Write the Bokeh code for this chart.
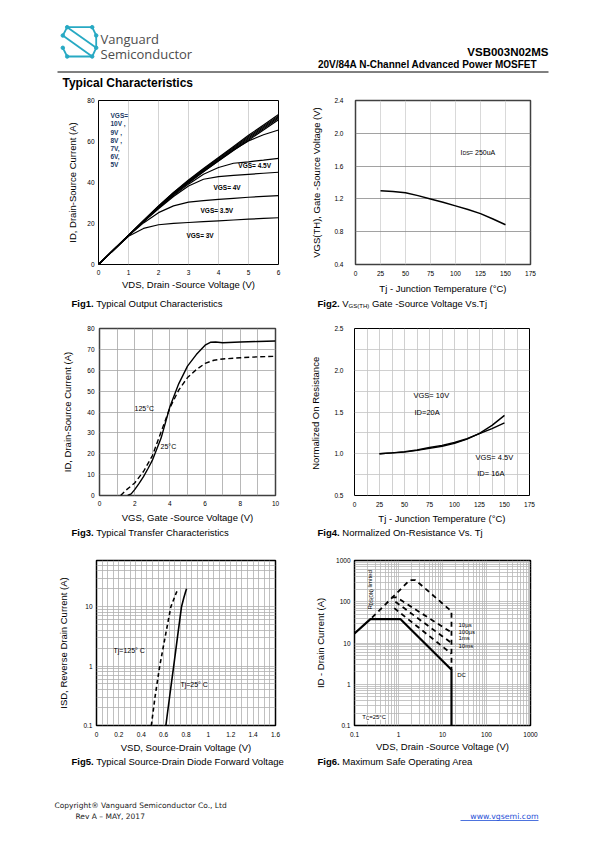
import math
from bokeh.plotting import figure
from bokeh.models import Range1d, FixedTicker, PrintfTickFormatter, Label
from bokeh.layouts import column, row
from bokeh.embed import file_html
from bokeh.resources import INLINE

# ---------------- data ----------------
# Fig1 output characteristics
VDS = [0, 0.5, 1, 1.5, 2, 2.5, 3, 3.5, 4, 4.5, 5, 5.5, 6]
ID_10V = [0, 7.2, 14.3, 21.5, 28.6, 35.2, 41.2, 46.8, 52.2, 57.6, 63.0, 68.1, 73.2]
ID_9V = [0, 7.2, 14.3, 21.4, 28.4, 35.0, 40.9, 46.5, 51.8, 57.1, 62.4, 67.4, 72.5]
ID_8V = [0, 7.1, 14.2, 21.3, 28.2, 34.7, 40.6, 46.1, 51.4, 56.6, 61.8, 66.8, 71.9]
ID_7V = [0, 7.1, 14.2, 21.2, 28.0, 34.4, 40.3, 45.7, 51.0, 56.1, 61.2, 66.2, 71.3]
ID_6V = [0, 7.1, 14.1, 21.1, 27.8, 34.1, 40.0, 45.3, 50.5, 55.6, 60.6, 65.6, 70.6]
ID_5V = [0, 7.1, 14.1, 21.0, 27.8, 34.1, 39.8, 45.2, 50.6, 55.8, 60.3, 63.3, 65.6]
ID_4V5 = [0, 7.1, 14.1, 20.9, 27.5, 33.6, 39.2, 44.0, 47.3, 49.4, 50.1, 50.9, 51.8]
ID_4V = [0, 7.1, 14.1, 20.8, 27.2, 33.2, 38.3, 41.6, 42.9, 43.5, 44.0, 44.5, 45.0]
ID_3V5 = [0, 7.0, 14.0, 20.3, 25.3, 28.6, 30.4, 31.2, 31.8, 32.3, 32.8, 33.2, 33.6]
ID_3V = [0, 7.0, 13.8, 17.6, 19.4, 20.1, 20.5, 20.9, 21.3, 21.7, 22.1, 22.5, 22.8]
FIG1_GROUP_LINES = ["VGS=", "10V ,", "9V ,", "8V ,", "7V,", "6V,", "5V"]

# Fig2 threshold voltage vs Tj
TJ2 = [25, 37.5, 50, 62.5, 75, 87.5, 100, 112.5, 125, 137.5, 150]
VTH = [1.30, 1.29, 1.275, 1.24, 1.20, 1.16, 1.115, 1.07, 1.02, 0.955, 0.885]

# Fig3 transfer characteristics
VGS_25C = [1.6, 1.8, 2.0, 2.25, 2.5, 2.75, 3.0, 3.5, 4.0, 4.5, 5.0, 5.5, 6.0, 6.3, 6.6, 7.0, 8.0, 9.0, 10.0]
ID_25C = [0, 0.8, 2.8, 5.8, 9.0, 12.8, 16.8, 27.5, 42.5, 53.5, 62.0, 67.5, 72.0, 73.4, 73.5, 73.2, 73.5, 73.8, 74.0]
VGS_125C = [1.2, 1.5, 2.0, 2.5, 3.0, 3.5, 4.0, 4.5, 5.0, 5.5, 6.0, 6.5, 7.0, 8.0, 9.0, 10.0]
ID_125C = [0, 2.5, 6.0, 11.5, 19.0, 30.5, 42.0, 50.5, 56.5, 60.3, 63.3, 64.8, 65.4, 66.0, 66.4, 66.7]

# Fig4 normalized on-resistance
TJ4 = [25, 37.5, 50, 62.5, 75, 87.5, 100, 112.5, 125, 137.5, 150]
RN_10V = [1.0, 1.01, 1.02, 1.04, 1.065, 1.09, 1.125, 1.175, 1.245, 1.34, 1.46]
RN_4V5 = [1.0, 1.01, 1.025, 1.045, 1.075, 1.10, 1.135, 1.18, 1.24, 1.30, 1.37]

# Fig5 body diode
VSD_25C = [0.62, 0.655, 0.69, 0.725, 0.76, 0.78, 0.795, 0.805]
ISD_25C = [0.1, 0.32, 1.0, 3.2, 10, 14, 17.5, 20]
VSD_125C = [0.49, 0.525, 0.565, 0.615, 0.665, 0.695, 0.715, 0.73]
ISD_125C = [0.1, 0.32, 1.0, 3.2, 10, 14, 17.5, 20]

# Fig6 safe operating area
SOA_DC_V = [0.1, 0.23, 1.1, 16, 16]
SOA_DC_I = [17, 38, 38, 2.25, 0.1]
SOA_10US_V = [0.25, 1.8, 2.43, 16, 16]
SOA_10US_I = [41, 334, 334, 58.7, 2.25]
SOA_100US_V = [0.7, 0.9, 16]
SOA_100US_I = [128, 128, 18]
SOA_1MS_V = [0.85, 16]
SOA_1MS_I = [100, 10]
SOA_10MS_V = [0.8, 16]
SOA_10MS_I = [70, 5.5]

# ---------------- styling ----------------
FONT = "Liberation Sans"
CYAN = "#27a9c3"
PAGE_W = 587


def chart(w, h, l, r, t, b, xr, yr, xt="linear", yt="linear"):
    p = figure(width=w, height=h, x_range=Range1d(*xr), y_range=Range1d(*yr),
               x_axis_type=xt, y_axis_type=yt, output_backend="svg", title=None,
               toolbar_location=None, min_border_left=l, min_border_right=r,
               min_border_top=t, min_border_bottom=b)
    p.background_fill_color = "white"
    p.border_fill_color = "white"
    p.outline_line_color = "black"
    p.outline_line_width = 1
    for ax in p.axis:
        ax.axis_line_color = None
        ax.major_tick_line_color = None
        ax.minor_tick_line_color = None
        ax.major_tick_out = 0
        ax.major_tick_in = 0
        ax.major_label_text_font = FONT
        ax.major_label_text_font_size = "6.5px"
        ax.major_label_text_color = "black"
        ax.axis_label_text_font = FONT
        ax.axis_label_text_font_size = "9.5px"
        ax.axis_label_text_font_style = "normal"
        ax.axis_label_text_color = "black"
    p.grid.grid_line_color = None
    return p


def axes(p, xticks, yticks, xfmt, yfmt, xlabel, ylabel, xs, xls, ys, yls):
    p.xaxis.ticker = FixedTicker(ticks=xticks)
    p.yaxis.ticker = FixedTicker(ticks=yticks)
    p.xaxis.formatter = PrintfTickFormatter(format=xfmt)
    p.yaxis.formatter = PrintfTickFormatter(format=yfmt)
    p.xaxis.axis_label = xlabel
    p.yaxis.axis_label = ylabel
    p.xaxis.major_label_standoff = int(round(xs))
    p.xaxis.axis_label_standoff = int(round(xls))
    p.yaxis.major_label_standoff = int(round(ys))
    p.yaxis.axis_label_standoff = int(round(yls))


def grid(p, xlines, ylines, xcolor, ycolor, width=0.8):
    if xlines:
        p.xgrid.ticker = FixedTicker(ticks=xlines)
        p.xgrid.grid_line_color = xcolor
        p.xgrid.grid_line_width = width
    if ylines:
        p.ygrid.ticker = FixedTicker(ticks=ylines)
        p.ygrid.grid_line_color = ycolor
        p.ygrid.grid_line_width = width


def lab(p, x, y, text, size="7px", style="normal", font=FONT, color="black", **kw):
    p.add_layout(Label(x=x, y=y, text=text, text_font=font, text_font_size=size,
                       text_font_style=style, text_color=color,
                       text_baseline=kw.pop("baseline", "middle"), **kw))


def strip(height, top):
    """A plain page-coordinate strip (x: page px, y: page px downward)."""
    s = figure(width=PAGE_W, height=height, x_range=Range1d(0, PAGE_W),
               y_range=Range1d(top + height, top), output_backend="svg", title=None,
               toolbar_location=None, min_border=0,
               x_axis_location=None, y_axis_location=None)
    s.grid.grid_line_color = None
    s.outline_line_color = None
    s.background_fill_color = "white"
    s.border_fill_color = "white"
    return s


def caption(s, x, y, parts):
    for text, xoff, yoff, size, style in parts:
        lab(s, x + xoff, y + yoff, text, size=size, style=style)


# ---------------- Fig1 ----------------
f1 = chart(297, 204, 98, 19, 8, 26, (0, 6), (0, 80))
axes(f1, [0, 1, 2, 3, 4, 5, 6], [0, 20, 40, 60, 80], "%g", "%g",
     "VDS, Drain -Source Voltage (V)", "ID, Drain-Source Current (A)", 5, 1, 4, 6)
grid(f1, [1, 2, 3, 4, 5], None, "#c8c8c8", None)
for ys in [ID_10V, ID_9V, ID_8V, ID_7V, ID_6V, ID_5V, ID_4V5, ID_4V, ID_3V5, ID_3V]:
    f1.line(VDS, ys, line_color="black", line_width=1.2)
for i, t in enumerate(FIG1_GROUP_LINES):
    lab(f1, 0.4, 72.6, t, size="6.5px", style="bold", color="#203864", y_offset=-i * 8.2)
lab(f1, 4.66, 48.1, "VGS= 4.5V", size="6.5px", style="bold")
lab(f1, 3.83, 37.6, "VGS= 4V", size="6.5px", style="bold")
lab(f1, 3.4, 26.4, "VGS= 3.5V", size="6.5px", style="bold")
lab(f1, 2.93, 14.1, "VGS= 3V", size="6.5px", style="bold")

# ---------------- Fig2 ----------------
f2 = chart(290, 204, 58, 57, 8, 31, (0, 175), (0.4, 2.4))
f2.outline_line_color = "#404040"
f2.outline_line_width = 1.5
axes(f2, [0, 25, 50, 75, 100, 125, 150, 175], [0.4, 0.8, 1.2, 1.6, 2.0, 2.4], "%g", "%.1f",
     "Tj - Junction Temperature (°C)", "VGS(TH), Gate -Source Voltage (V)", 6, 4, 12, 9)
grid(f2, [25, 50, 75, 100, 125, 150], [0.8, 1.2, 1.6, 2.0], "#cfcfcf", "#8a8a8a")
f2.line(TJ2, VTH, line_color="black", line_width=1.5)
lab(f2, 105, 1.761, "I", size="7px")
lab(f2, 105, 1.761, "DS", size="5px", x_offset=2.2, y_offset=-0.5)
lab(f2, 105, 1.761, "= 250uA", size="7px", x_offset=8.5)

# ---------------- Fig3 ----------------
f3 = chart(297, 214, 99, 22, 13, 28, (0, 10), (0, 80))
f3.outline_line_color = "#404040"
f3.outline_line_width = 1.5
axes(f3, [0, 2, 4, 6, 8, 10], [0, 10, 20, 30, 40, 50, 60, 70, 80], "%g", "%g",
     "VGS, Gate -Source Voltage (V)", "ID, Drain-Source Current (A)", 5, 3, 5, 11)
grid(f3, [1, 2, 3, 4, 5, 6, 7, 8, 9], [10, 20, 30, 40, 50, 60, 70], "#a6a6a6", "#a6a6a6")
f3.line(VGS_25C, ID_25C, line_color="black", line_width=1.4)
f3.line(VGS_125C, ID_125C, line_color="black", line_width=1.4, line_dash="5 3")
lab(f3, 1.99, 41.8, "125°C", size="7px")
lab(f3, 3.47, 23.3, "25°C", size="7px")

# ---------------- Fig4 ----------------
f4 = chart(290, 214, 57, 58, 16, 29, (0, 175), (0.5, 2.5))
axes(f4, [0, 25, 50, 75, 100, 125, 150, 175], [0.5, 1.0, 1.5, 2.0, 2.5], "%g", "%.1f",
     "Tj - Junction Temperature (°C)", "Normalized On  Resistance", 6, 3, 11, 10)
grid(f4, [12.5 * k for k in range(1, 14)], [0.75, 1.0, 1.25, 1.5, 1.75, 2.0, 2.25],
     "#c4c4c4", "#c4c4c4")
f4.line(TJ4, RN_10V, line_color="black", line_width=1.4)
f4.line(TJ4, RN_4V5, line_color="black", line_width=1.4)
lab(f4, 59, 1.695, "VGS= 10V", size="7.5px")
lab(f4, 60, 1.498, "ID=20A", size="7.5px")
lab(f4, 121, 0.95, "VGS= 4.5V", size="7.5px")
lab(f4, 122.7, 0.76, "ID= 16A", size="7.5px")

# ---------------- Fig5 ----------------
f5 = chart(297, 210, 96, 22, 13, 27, (0, 1.6), (0.1, 60), yt="log")
f5.outline_line_width = 1.5
axes(f5, [0, 0.2, 0.4, 0.6, 0.8, 1.0, 1.2, 1.4, 1.6], [0.1, 1, 10], "%g", "%g",
     "VSD, Source-Drain Voltage (V)", "ISD, Reverse Drain Current (A)", 6, 2, 4, 11)
log_minor5 = [m * 10 ** e for e in (-1, 0, 1) for m in range(1, 10) if m * 10 ** e < 60]
grid(f5, [0.05 * k for k in range(1, 32)], log_minor5[1:], "#b0b0b0", "#b0b0b0")
f5.line(VSD_25C, ISD_25C, line_color="black", line_width=1.6)
f5.line(VSD_125C, ISD_125C, line_color="black", line_width=1.6, line_dash="4 3")
lab(f5, 0.152, 1.8, "Tj=125° C", size="7px")
lab(f5, 0.75, 0.49, "Tj=25° C", size="7px")

# ---------------- Fig6 ----------------
f6 = chart(290, 210, 57, 57, 15, 27, (0.1, 1000), (0.1, 1000), xt="log", yt="log")
f6.outline_line_width = 1.5
axes(f6, [0.1, 1, 10, 100, 1000], [0.1, 1, 10, 100, 1000], "%g", "%g",
     "VDS, Drain -Source Voltage (V)", "ID - Drain Current (A)", 6, 1, 4, 7)
log_all6 = [m * 10 ** e for e in (-1, 0, 1, 2) for m in range(1, 10)][1:]
grid(f6, log_all6, log_all6, "#b8b8b8", "#b8b8b8")
f6.line(SOA_DC_V, SOA_DC_I, line_color="black", line_width=2.2)
for xs, ys in [(SOA_10US_V, SOA_10US_I), (SOA_100US_V, SOA_100US_I),
               (SOA_1MS_V, SOA_1MS_I), (SOA_10MS_V, SOA_10MS_I)]:
    f6.line(xs, ys, line_color="black", line_width=1.8, line_dash="5 4")
for t, yv in [("10µs", 27.3), ("100µs", 19.0), ("1ms", 12.9), ("10ms", 8.3)]:
    lab(f6, 23.1, yv, t, size="6px")
lab(f6, 21.6, 1.66, "DC", size="6px")
lab(f6, 0.15, 0.162, "T", size="6px", background_fill_color="white")
lab(f6, 0.15, 0.162, "C", size="4.5px", x_offset=3.7, y_offset=-1.5, background_fill_color="white")
lab(f6, 0.15, 0.162, "=25°C", size="6px", x_offset=6.9, background_fill_color="white")
lab(f6, 0.22, 64.5, "R", size="6px", angle=math.pi / 2, baseline="alphabetic")
lab(f6, 0.22, 64.5, "DS(ON)", size="4.5px", angle=math.pi / 2, baseline="alphabetic",
    x_offset=1.5, y_offset=4.3)
lab(f6, 0.22, 64.5, "limited", size="6px", angle=math.pi / 2, baseline="alphabetic",
    y_offset=22)

# ---------------- caption strips ----------------
cap1 = strip(16, 296)
caption(cap1, 71, 303, [("Fig1.", 0, 0, "9.5px", "bold"),
                        ("Typical Output Characteristics", 24.8, 0, "9.5px", "normal")])
caption(cap1, 317, 303, [("Fig2.", 0, 0, "9.5px", "bold"),
                         ("V", 24.8, 0, "9.5px", "normal"),
                         ("GS(TH)", 31.1, 2, "6px", "normal"),
                         ("Gate -Source Voltage Vs.Tj", 54.4, 0, "9.5px", "normal")])
cap2 = strip(19, 526)
caption(cap2, 71, 532, [("Fig3.", 0, 0, "9.5px", "bold"),
                        ("Typical Transfer Characteristics", 24.8, 0, "9.5px", "normal")])
caption(cap2, 317, 532, [("Fig4.", 0, 0, "9.5px", "bold"),
                         ("Normalized On-Resistance Vs. Tj", 24.8, 0, "9.5px", "normal")])
cap3 = strip(20, 755)
caption(cap3, 71, 761, [("Fig5.", 0, 0, "9.5px", "bold"),
                        ("Typical Source-Drain Diode Forward Voltage", 24.8, 0, "9.5px", "normal")])
caption(cap3, 317, 761, [("Fig6.", 0, 0, "9.5px", "bold"),
                         ("Maximum Safe Operating Area", 24.8, 0, "9.5px", "normal")])

# ---------------- header ----------------
hdr = strip(92, 0)
# logo vertices A..H (page px)
LOGO_PX = {"A": (66.7, 26.7), "B": (91.7, 26.7), "C": (95.7, 35), "D": (62.3, 35),
           "E": (62.3, 47.3), "F": (95.7, 47.3), "G": (66.7, 56), "H": (91.7, 56)}
LOGO_EDGES = ["AB", "AD", "BC", "GH", "EG", "FH", "DH", "AF", "CF"]
hdr.multi_line([[LOGO_PX[a][0], LOGO_PX[b][0]] for a, b in LOGO_EDGES],
               [[LOGO_PX[a][1], LOGO_PX[b][1]] for a, b in LOGO_EDGES],
               line_color=CYAN, line_width=1.8)
hdr.scatter([v[0] for v in LOGO_PX.values()], [v[1] for v in LOGO_PX.values()],
            size=3.5, color=CYAN)
lab(hdr, 100, 38, "Vanguard", size="13px", font="Open Sans", color="#4d4d4d")
lab(hdr, 100, 53.5, "Semiconductor", size="13px", font="Open Sans", color="#4d4d4d")
lab(hdr, 548, 51, "VSB003N02MS", size="11.5px", style="bold", text_align="right")
lab(hdr, 548, 64.2, "20V/84A  N-Channel  Advanced  Power  MOSFET", size="10px", style="bold",
    text_align="right")
hdr.segment(x0=[57], y0=[71.5], x1=[548], y1=[71.5], line_color="black", line_width=1)
lab(hdr, 62, 82, "Typical Characteristics", size="12px", style="bold")

# ---------------- footer ----------------
ftr = strip(59, 775)
lab(ftr, 54, 804.5, "Copyright® Vanguard Semiconductor Co., Ltd", size="7.5px", font="DejaVu Sans",
    color="#222222")
lab(ftr, 75, 815.5, "Rev A – MAY, 2017", size="7.5px", font="DejaVu Sans", color="#222222")
lab(ftr, 538, 815.5, "www.vgsemi.com", size="7.8px", font="DejaVu Sans",
    color="#1f4fd6", text_align="right")
ftr.segment(x0=[460], y0=[820], x1=[538], y1=[820], line_color="#1f4fd6", line_width=0.8)

page = column(hdr, row(f1, f2), cap1, row(f3, f4), cap2, row(f5, f6), cap3, ftr)
open("out.html", "w").write(file_html(page, INLINE))
